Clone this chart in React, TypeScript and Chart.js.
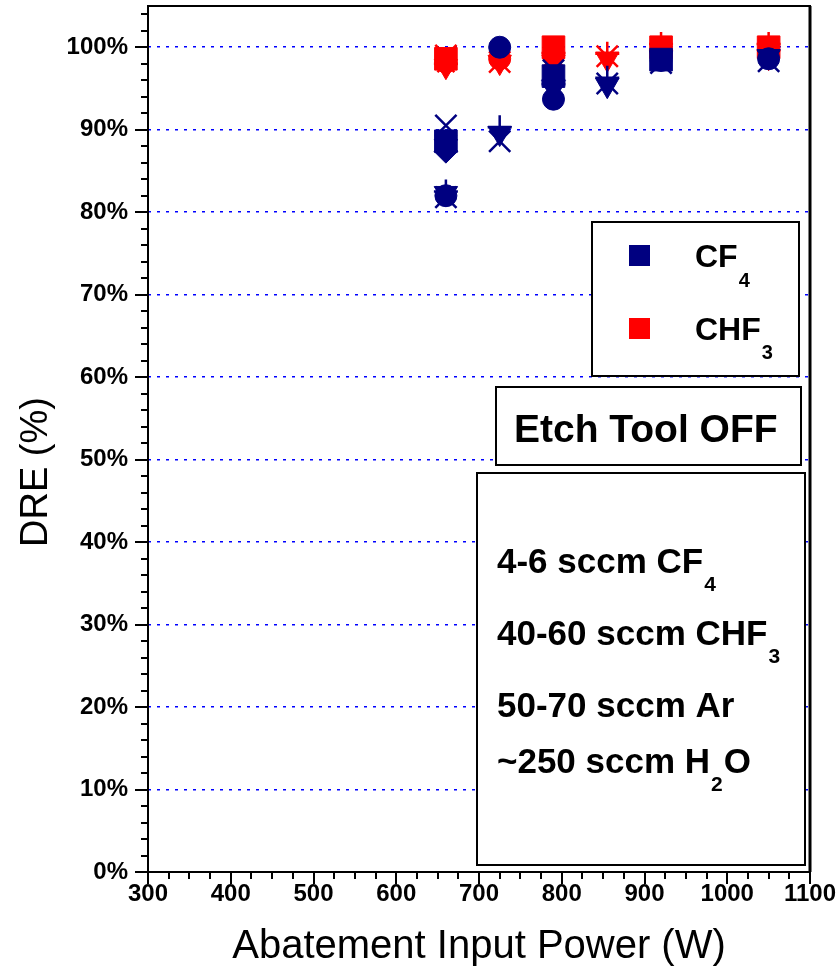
import React, { useEffect, useRef } from 'react';
import { Chart, registerables } from 'chart.js';

Chart.register(...registerables);

type Pt = [number, number];

// ---------- data ----------
const xTickValues = [300, 400, 500, 600, 700, 800, 900, 1000, 1100];
const yTickValues = [0, 10, 20, 30, 40, 50, 60, 70, 80, 90, 100];

const seriesNames = ['CF4', 'CHF3'];

// CF4 runs (power W, DRE %)
const cf4Circle: Pt[] = [[660, 82.0], [725, 100.0], [790, 93.7], [920, 98.4], [1050, 98.6]];
const cf4Square: Pt[] = [[660, 88.6], [790, 96.5], [920, 98.5]];
const cf4TriDown: Pt[] = [[660, 88.0], [660, 82.3], [725, 89.6], [790, 95.0], [855, 95.4], [920, 98.7], [1050, 98.9]];
const cf4Diamond: Pt[] = [[660, 87.4], [790, 96.0]];
const cf4Cross: Pt[] = [[660, 90.5], [660, 81.8], [725, 88.6], [790, 97.2], [855, 95.6], [920, 98.1], [1050, 98.3]];
const cf4Plus: Pt[] = [[660, 82.5], [725, 90.3], [790, 95.5], [855, 96.3]];

// CHF3 runs (power W, DRE %)
const chfCircle: Pt[] = [[660, 98.2], [725, 98.6], [790, 99.0], [920, 99.5], [1050, 99.5]];
const chfSquare: Pt[] = [[660, 98.6], [790, 100.0], [920, 100.0], [1050, 100.0]];
const chfTriDown: Pt[] = [[660, 97.7], [725, 98.2], [790, 98.2], [855, 98.6], [920, 98.8], [1050, 98.8]];
const chfCross: Pt[] = [[660, 99.0], [725, 98.2], [790, 98.8], [855, 98.9]];
const chfPlus: Pt[] = [[790, 99.3], [855, 99.2], [920, 100.4], [1050, 100.4]];
const chfStar: Pt[] = [[660, 98.0]];

const noteLines = [
  [{ t: '4-6 sccm CF' }, { t: '4', sub: true }],
  [{ t: '40-60 sccm CHF' }, { t: '3', sub: true }],
  [{ t: '50-70 sccm Ar' }],
  [{ t: '~250 sccm H' }, { t: '2', sub: true }, { t: 'O' }],
];

// ---------- styles ----------
const FONT = '"Liberation Sans", Arial, Helvetica, sans-serif';
const NAVY = '#000080';
const RED = '#ff0000';

const markerStyles: Record<string, { style: string; r: number; rot?: number; bw: number }> = {
  circle: { style: 'circle', r: 11, bw: 1 },
  square: { style: 'rect', r: 16, bw: 1 },
  triDown: { style: 'triangle', r: 13.5, rot: 180, bw: 1 },
  diamond: { style: 'rectRot', r: 12, bw: 1 },
  cross: { style: 'crossRot', r: 15, bw: 2.5 },
  plus: { style: 'cross', r: 12, bw: 2.5 },
  star: { style: 'star', r: 12, bw: 2.5 },
};

function makeDataset(label: string, points: Pt[], marker: string, color: string) {
  const m = markerStyles[marker];
  return {
    label,
    data: points.map(([x, y]) => ({ x, y })),
    pointStyle: m.style,
    pointRadius: m.r,
    pointRotation: m.rot || 0,
    pointBackgroundColor: color,
    pointBorderColor: color,
    pointBorderWidth: m.bw,
    backgroundColor: color,
    borderColor: color,
    showLine: false,
    clip: false,
  };
}

function drawRich(ctx: CanvasRenderingContext2D, parts: any[], x: number, baseline: number, size: number, subSize: number, subDrop: number) {
  let cx = x;
  ctx.textAlign = 'left';
  ctx.textBaseline = 'alphabetic';
  for (const p of parts) {
    ctx.font = `bold ${p.sub ? subSize : size}px ${FONT}`;
    ctx.fillText(p.t, cx, p.sub ? baseline + subDrop : baseline);
    cx += ctx.measureText(p.t).width + 1;
  }
}

const overlayPlugin = {
  id: 'overlay',
  afterDraw(chart: any) {
    const { ctx, chartArea: a, scales } = chart;
    const xs = scales.x;
    const ys = scales.y;
    ctx.save();
    ctx.strokeStyle = '#000';
    ctx.fillStyle = '#000';

    // tick marks
    ctx.lineWidth = 2;
    for (let v = 0; v <= 104; v += 2) {
      const py = Math.round(ys.getPixelForValue(v));
      const len = v % 10 === 0 ? 13 : 7;
      ctx.beginPath();
      ctx.moveTo(a.left - len, py);
      ctx.lineTo(a.left, py);
      ctx.stroke();
    }
    for (let v = 300; v <= 1100; v += 25) {
      const px = Math.round(xs.getPixelForValue(v));
      const len = v % 100 === 0 ? 12 : 7;
      ctx.beginPath();
      ctx.moveTo(px, a.bottom);
      ctx.lineTo(px, a.bottom + len);
      ctx.stroke();
    }

    // frame
    ctx.lineWidth = 2;
    ctx.strokeRect(a.left, a.top, a.right - a.left, a.bottom - a.top);
    ctx.lineWidth = 3;
    ctx.beginPath();
    ctx.moveTo(a.right, a.top);
    ctx.lineTo(a.right, a.bottom);
    ctx.stroke();

    // axis titles
    ctx.font = `38px ${FONT}`;
    ctx.textAlign = 'center';
    ctx.textBaseline = 'alphabetic';
    ctx.save();
    ctx.translate(47, 472);
    ctx.rotate(-Math.PI / 2);
    ctx.fillText('DRE (%)', 0, 0);
    ctx.restore();
    ctx.font = `40px ${FONT}`;
    ctx.fillText('Abatement Input Power (W)', (a.left + a.right) / 2, 958);

    // boxes
    const box = (x1: number, y1: number, x2: number, y2: number) => {
      ctx.fillStyle = '#fff';
      ctx.fillRect(x1, y1, x2 - x1, y2 - y1);
      ctx.strokeStyle = '#000';
      ctx.lineWidth = 2;
      ctx.strokeRect(x1, y1, x2 - x1, y2 - y1);
      ctx.fillStyle = '#000';
    };

    // legend
    box(592, 222, 799, 376);
    ctx.fillStyle = NAVY;
    ctx.fillRect(629, 245, 21, 21);
    ctx.fillStyle = RED;
    ctx.fillRect(629, 318, 21, 21);
    ctx.fillStyle = '#000';
    drawRich(ctx, [{ t: seriesNames[0].slice(0, 2) }, { t: seriesNames[0].slice(2), sub: true }], 695, 267, 32, 20, 20);
    drawRich(ctx, [{ t: seriesNames[1].slice(0, 3) }, { t: seriesNames[1].slice(3), sub: true }], 695, 340, 32, 20, 19);

    // Etch Tool OFF
    box(496, 387, 801, 465);
    ctx.font = `bold 39px ${FONT}`;
    ctx.textAlign = 'left';
    ctx.fillText('Etch Tool OFF', 514, 442);

    // conditions
    box(477, 473, 805, 865);
    const baselines = [573, 645, 717, 773];
    noteLines.forEach((parts, i) => drawRich(ctx, parts, 497, baselines[i], 35, 21, 18));

    ctx.restore();
  },
};

export default function App() {
  const ref = useRef<HTMLCanvasElement>(null);
  useEffect(() => {
    const datasets = [
      makeDataset('CF4', cf4Circle, 'circle', NAVY),
      makeDataset('CF4', cf4Square, 'square', NAVY),
      makeDataset('CF4', cf4Diamond, 'diamond', NAVY),
      makeDataset('CF4', cf4TriDown, 'triDown', NAVY),
      makeDataset('CF4', cf4Plus, 'plus', NAVY),
      makeDataset('CF4', cf4Cross, 'cross', NAVY),
      makeDataset('CHF3', chfCircle, 'circle', RED),
      makeDataset('CHF3', chfSquare, 'square', RED),
      makeDataset('CHF3', chfTriDown, 'triDown', RED),
      makeDataset('CHF3', chfPlus, 'plus', RED),
      makeDataset('CHF3', chfCross, 'cross', RED),
      makeDataset('CHF3', chfStar, 'star', RED),
    ];
    const zeroPad = (s: any) => {
      s.paddingTop = 0;
      s.paddingBottom = 0;
      s.paddingLeft = 0;
      s.paddingRight = 0;
    };
    const chart = new Chart(ref.current as HTMLCanvasElement, {
      type: 'scatter',
      data: { datasets: datasets as any },
      options: {
        responsive: false,
        maintainAspectRatio: false,
        animation: false,
        devicePixelRatio: 1,
        events: [],
        layout: { autoPadding: false, padding: { top: 6, right: 29, left: 0, bottom: 0 } },
        plugins: { legend: { display: false }, tooltip: { enabled: false } },
        scales: {
          x: {
            type: 'linear',
            min: 300,
            max: 1100,
            afterBuildTicks: (s: any) => { s.ticks = xTickValues.map((v) => ({ value: v })); },
            afterFit: (s: any) => { s.height = 99; zeroPad(s); },
            ticks: {
              callback: (v: any) => String(v),
              font: { family: FONT, size: 24, weight: 'bold' },
              color: '#000',
              padding: 8,
              maxRotation: 0,
              autoSkip: false,
            },
            grid: { display: false, drawTicks: false },
            border: { display: false },
          },
          y: {
            type: 'linear',
            min: 0,
            max: 105,
            afterBuildTicks: (s: any) => { s.ticks = yTickValues.map((v) => ({ value: v })); },
            afterFit: (s: any) => { s.width = 148; zeroPad(s); },
            ticks: {
              callback: (v: any) => v + '%',
              font: { family: FONT, size: 24, weight: 'bold' },
              color: '#000',
              padding: 20,
              autoSkip: false,
            },
            grid: {
              color: (c: any) => (c.tick && c.tick.value === 0 ? 'rgba(0,0,0,0)' : '#0000ff'),
              lineWidth: 1.5,
              drawTicks: false,
            },
            border: { display: false, dash: [3, 6] },
          },
        },
      },
      plugins: [overlayPlugin],
    } as any);
    return () => chart.destroy();
  }, []);
  return (
    <div style={{ position: 'absolute', left: 0, top: 0, width: 839, height: 971, background: '#fff' }}>
      <canvas ref={ref} width={839} height={971} style={{ display: 'block', width: 839, height: 971 }} />
    </div>
  );
}
